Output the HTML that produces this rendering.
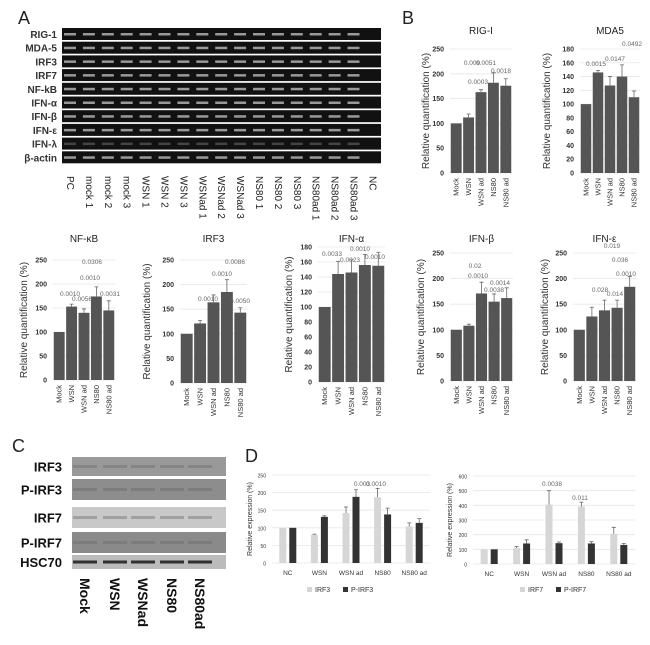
<!DOCTYPE html>
<html><head><meta charset="utf-8"><style>
body{margin:0;background:#fff;}
svg{display:block;font-family:"Liberation Sans",sans-serif;}
</style></head><body>
<svg id="fig" width="650" height="645" viewBox="0 0 650 645" xmlns="http://www.w3.org/2000/svg">
<text x="18" y="24" font-size="18" fill="#222">A</text>
<text x="402" y="24" font-size="18" fill="#222">B</text>
<text x="12" y="452" font-size="18" fill="#222">C</text>
<text x="245" y="462" font-size="18" fill="#222">D</text>
<g id="gel"></g>
<g id="blot"></g>
<g id="charts"></g>
</svg>
<script>
// ---- Panel A gel ----
const gelRows = ["RIG-1","MDA-5","IRF3","IRF7","NF-kB","IFN-α","IFN-β","IFN-ε","IFN-λ","β-actin"];
const gelLanes = ["PC","mock 1","mock 2","mock 3","WSN 1","WSN 2","WSN 3","WSNad 1","WSNad 2","WSNad 3","NS80 1","NS80 2","NS80 3","NS80ad 1","NS80ad 2","NS80ad 3","NC"];
// ---- Panel B charts ----
const cats5 = ["Mock","WSN","WSN ad","NS80","NS80 ad"];
const rigVals = [100,112,163,182,176];
const rigErr = [0,7,5,20,14];
const rigTicks = [0,50,100,150,200,250];
const mdaVals = [100,146,127,140,110];
const mdaErr = [0,3,13,17,9];
const mdaTicks = [0,20,40,60,80,100,120,140,160,180];
const nfkbVals = [100,153,140,174,145];
const nfkbErr = [0,5,8,20,20];
const irf3Vals = [100,121,164,185,143];
const irf3Err = [0,6,15,25,10];
const ifnaVals = [100,144,146,156,155];
const ifnaErr = [0,17,17,14,18];
const ifnbVals = [100,108,171,155,162];
const ifnbErr = [0,3,22,15,20];
const ifneVals = [100,126,138,143,184];
const ifneErr = [0,18,20,15,20];
const ticks250 = [0,50,100,150,200,250];
// ---- Panel D ----
const dCats = ["NC","WSN","WSN ad","NS80","NS80 ad"];
const irf3D = [100,80,142,187,104];
const irf3DErr = [0,2,17,25,10];
const pirf3D = [100,131,188,138,114];
const pirf3DErr = [0,3,20,18,12];
const irf7D = [100,108,405,392,205];
const irf7DErr = [0,12,95,30,45];
const pirf7D = [100,140,142,140,130];
const pirf7DErr = [0,25,8,12,10];
const dTicksL = [0,50,100,150,200,250];
const dTicksR = [0,100,200,300,400,500,600];

const NS="http://www.w3.org/2000/svg";
function mk(tag, attrs, parent, txt){
  const e=document.createElementNS(NS,tag);
  for(const k in attrs) e.setAttribute(k,attrs[k]);
  if(txt!==undefined) e.textContent=txt;
  parent.appendChild(e); return e;
}
// gel
const gel=document.getElementById('gel');
const rowY0=28, rowP=13.7, laneX0=70, laneP=18.9;
gelRows.forEach((r,i)=>{
  const y=rowY0+i*rowP;
  const t=mk('text',{x:57,y:y+10,'font-size':10,'font-weight':'bold','text-anchor':'end',fill:'#333'},gel,r);
  
  
  const s=mk('rect',{x:62,y:y,width:319,height:12,fill:'#111'},gel);
  
  
  gelLanes.forEach((l,j)=>{
    if(l==="NC") return;
    const b=mk('rect',{x:laneX0+j*laneP-6,y:y+5,width:12,height:2.5,fill:(r==="IFN-λ"?'#444':'#999')},gel);
    
    
  });
});
gelLanes.forEach((l,j)=>{
  const x=laneX0+j*laneP;
  const t=mk('text',{x:x-3,y:176,'font-size':10,fill:'#222',transform:`rotate(90 ${x-3} 176)`},gel,l);
  
  
});
// blot
const blot=document.getElementById('blot');
const blotRows=[["IRF3",457,19,'#999'],["P-IRF3",479,21,'#8d8d8d'],["IRF7",507,21,'#c8c8c8'],["P-IRF7",532,21,'#8a8a8a'],["HSC70",555,14,'#bbb']];
blotRows.forEach(r=>{
  const t=mk('text',{x:62,y:r[1]+r[2]/2+5,'font-size':13,'font-weight':'bold','text-anchor':'end',fill:'#111'},blot,r[0]);
  
  
  const s=mk('rect',{x:72,y:r[1],width:154,height:r[2],fill:r[3]},blot);
  
  
  [85,115,143,172,200].forEach(x=>{
    const b=mk('rect',{x:x-12,y:r[1]+r[2]/2-1.5,width:24,height:3,fill:r[0]==="HSC70"?'#222':'#666',opacity:r[0]==="HSC70"?0.9:0.4},blot);
    
    
  });
});
["Mock","WSN","WSNad","NS80","NS80ad"].forEach((l,i)=>{
  const x=[85,115,143,172,200][i];
  const t=mk('text',{x:x-5,y:578,'font-size':14,'font-weight':'bold',fill:'#111',transform:`rotate(90 ${x-5} 578)`},blot,l);
  
  
});

const charts=document.getElementById('charts');
function barChart(o){
  const g=mk('g',{},charts);
  
  
  const max=o.ticks[o.ticks.length-1];
  const ys=v=>o.y0-(v/max)*(o.y0-o.yTop);
  const n=o.cats.length, bw=(o.x1-o.x0)/n;
  o.ticks.forEach(t=>{
    const gl=mk('line',{x1:o.x0,x2:o.x1,y1:ys(t),y2:ys(t),stroke:'#e6e6e6','stroke-width':0.8},g);
    
    
    const tl=mk('text',{x:o.x0-6,y:ys(t)+2.5,'font-size':o.tickFs||7,'font-weight':o.tickFs?'normal':'bold','text-anchor':'end',fill:'#333'},g,t);
    
    
  });
  if(o.title){
    const tt=mk('text',{x:(o.x0+o.x1)/2,y:o.titleY,'font-size':10,'text-anchor':'middle',fill:'#222'},g,o.title);
    
    
  }
  const yt=mk('text',{x:o.ytX,y:(o.y0+o.yTop)/2,'font-size':o.ytFs||10,'text-anchor':'middle',fill:'#333',transform:`rotate(-90 ${o.ytX} ${(o.y0+o.yTop)/2})`},g,o.ytitle);
  
  
  const ns=o.series.length;
  o.cats.forEach((c,i)=>{
    const cx=o.x0+bw*(i+0.5);
    o.series.forEach((s,k)=>{
      const w=ns===1?bw-1.5:o.sw;
      const bx=ns===1?o.x0+bw*i+0.75:cx-(ns*w+o.gap)/2+k*(w+o.gap);
      const v=s.vals[i];
      const r=mk('rect',{x:bx,y:ys(v),width:w,height:o.y0-ys(v),fill:s.color},g);
      
      
      const e=s.err[i];
      if(e>0){
        const mx=bx+w/2;
        const el=mk('path',{d:`M${mx} ${ys(v)} V${ys(v+e)} M${mx-2} ${ys(v+e)} H${mx+2}`,stroke:'#666','stroke-width':0.8,fill:'none'},g);
        
        
      }
    });
    let lab;
    if(o.rotCats){
      lab=mk('text',{x:cx+2.5,y:o.y0+5,'font-size':7.5,fill:'#333',transform:`rotate(-90 ${cx+2.5} ${o.y0+5})`,'text-anchor':'end'},g,c);
    } else {
      lab=mk('text',{x:cx,y:o.y0+12,'font-size':6.5,'text-anchor':'middle',fill:'#333'},g,c);
    }
    
    
  });
  (o.notes||[]).forEach(nn=>{
    const t=mk('text',{x:nn[0],y:nn[1],'font-size':6.5,fill:'#666','text-anchor':'middle'},g,nn[2]);
    
    
  });
  if(o.legend){
    o.legend.forEach((l,k)=>{
      const lx=o.legX+k*36;
      const sw=mk('rect',{x:lx,y:587,width:5,height:5,fill:o.series[k].color},g);
      
      
      const lt=mk('text',{x:lx+8,y:592,'font-size':7,fill:'#333'},g,l);
      
      
    });
  }
}
const RQ="Relative quantification (%)", DK="#555";
barChart({name:'rig-i-chart',title:'RIG-I',titleY:34,cats:cats5,series:[{vals:rigVals,err:rigErr,color:DK}],ticks:rigTicks,x0:450,x1:512,y0:173,yTop:49,ytX:429,ytitle:RQ,rotCats:true,
  notes:[[472,65,'0.009'],[486,65,'0.0051'],[501,73,'0.0018'],[478,84,'0.0003']]});
barChart({name:'mda5-chart',title:'MDA5',titleY:34,cats:cats5,series:[{vals:mdaVals,err:mdaErr,color:DK}],ticks:mdaTicks,x0:580,x1:640,y0:173,yTop:49,ytX:550,ytitle:RQ,rotCats:true,
  notes:[[596,66,'0.0015'],[615,61,'0.0147'],[632,46,'0.0492']]});
barChart({name:'nfkb-chart',title:'NF-κB',titleY:242,cats:cats5,series:[{vals:nfkbVals,err:nfkbErr,color:DK}],ticks:ticks250,x0:53,x1:115,y0:380,yTop:260,ytX:27,ytitle:RQ,rotCats:true,
  notes:[[92,264,'0.0306'],[90,280,'0.0010'],[70,296,'0.0010'],[82,301,'0.0056'],[110,296,'0.0031']]});
barChart({name:'irf3-chart',title:'IRF3',titleY:242,cats:cats5,series:[{vals:irf3Vals,err:irf3Err,color:DK}],ticks:ticks250,x0:180,x1:247,y0:383,yTop:260,ytX:150,ytitle:RQ,rotCats:true,
  notes:[[235,264,'0.0086'],[222,276,'0.0010'],[208,301,'0.0010'],[240,303,'0.0050']]});
barChart({name:'ifn-alpha-chart',title:'IFN-α',titleY:242,cats:cats5,series:[{vals:ifnaVals,err:ifnaErr,color:DK}],ticks:[0,20,40,60,80,100,120,140,160,180],x0:318,x1:385,y0:382,yTop:247,ytX:292,ytitle:RQ,rotCats:true,
  notes:[[332,256,'0.0033'],[350,262,'0.0023'],[360,251,'0.0010'],[375,259,'0.0010']]});
barChart({name:'ifn-beta-chart',title:'IFN-β',titleY:242,cats:cats5,series:[{vals:ifnbVals,err:ifnbErr,color:DK}],ticks:ticks250,x0:450,x1:513,y0:381,yTop:253,ytX:424,ytitle:RQ,rotCats:true,
  notes:[[475,268,'0.02'],[478,278,'0.0010'],[500,285,'0.0014'],[494,292,'0.0038']]});
barChart({name:'ifn-epsilon-chart',title:'IFN-ε',titleY:242,cats:cats5,series:[{vals:ifneVals,err:ifneErr,color:DK}],ticks:ticks250,x0:573,x1:636,y0:381,yTop:253,ytX:548,ytitle:RQ,rotCats:true,
  notes:[[612,248,'0.019'],[620,262,'0.036'],[626,276,'0.0010'],[600,292,'0.028'],[615,296,'0.014']]});
barChart({name:'irf3-western-quant-chart',cats:dCats,series:[{vals:irf3D,err:irf3DErr,color:'#d6d6d6'},{vals:pirf3D,err:pirf3DErr,color:'#333'}],ticks:dTicksL,x0:272,x1:430,y0:563,yTop:475,ytX:252,ytitle:'Relative expression (%)',ytFs:7,tickFs:5,sw:7,gap:3,
  notes:[[362,486,'0.003'],[376,486,'0.0010']],legend:['IRF3','P-IRF3'],legX:307});
barChart({name:'irf7-western-quant-chart',cats:dCats,series:[{vals:irf7D,err:irf7DErr,color:'#d6d6d6'},{vals:pirf7D,err:pirf7DErr,color:'#333'}],ticks:dTicksR,x0:473,x1:635,y0:564,yTop:476,ytX:452,ytitle:'Relative expression (%)',ytFs:7,tickFs:5,sw:7,gap:3,
  notes:[[552,486,'0.0038'],[580,500,'0.011']],legend:['IRF7','P-IRF7'],legX:520});
</script>
</body></html>
